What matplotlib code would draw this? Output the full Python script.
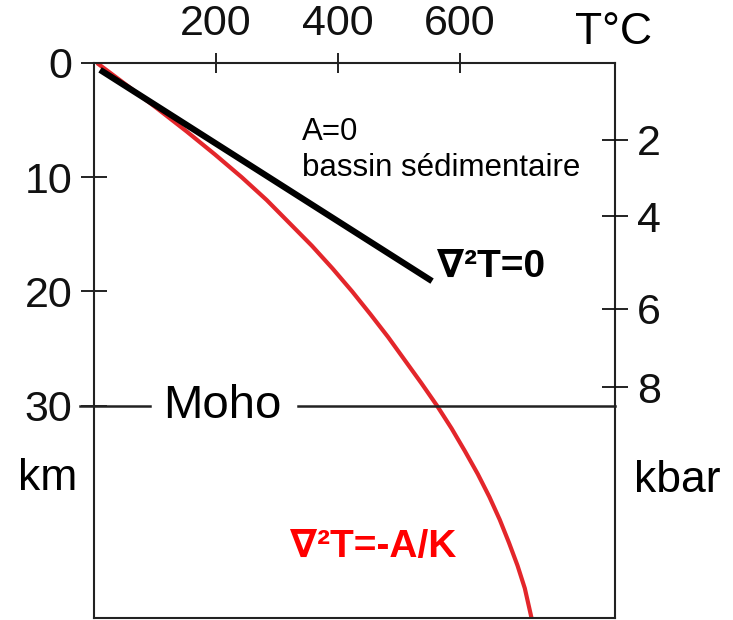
import matplotlib
matplotlib.use("Agg")
import matplotlib.pyplot as plt

plt.rcParams['font.family'] = ['Liberation Sans', 'DejaVu Sans']

# geotherm with radiogenic heat (red), every 2 km
red_z = [0, 2, 4, 6, 8, 10, 12, 14, 16, 18, 20, 22, 24, 26, 28, 30,
         32, 34, 36, 38, 40, 42, 44, 46, 48.6]
red_T = [5, 55, 104, 152, 198, 242, 283, 320, 357, 391, 423, 453, 482, 509, 536, 562,
         586, 608, 629, 648, 665, 680, 694, 706, 717]

# A=0 geotherm (black, straight)
black_T = [10, 554]
black_z = [0.6, 19.1]

T_ticks = [200, 400, 600]
km_ticks = [0, 10, 20, 30]
kbar_labels = [2, 4, 6, 8]
kbar_depth = [6.7, 13.4, 21.5, 28.4]
moho_depth = 30

T_MAX = 854
Z_MAX = 48.6

fig = plt.figure(figsize=(7.33, 6.2), dpi=100)
ax = fig.add_axes([0.1282, 0.0032, 0.711, 0.8952])

ax.plot(red_T, red_z, color='#e3262b', lw=3, solid_capstyle='butt', solid_joinstyle='round')
ax.plot(black_T, black_z, color='black', lw=4.5, solid_capstyle='butt')

# moho line, broken round the label
ax.plot([-23, 92], [moho_depth, moho_depth], color='#222222', lw=1.8, clip_on=False)
ax.plot([334, T_MAX], [moho_depth, moho_depth], color='#222222', lw=1.8, clip_on=False)
ax.text(210, moho_depth, "Moho", fontsize=34, ha='center', va='center')

ax.set_xlim(0, T_MAX)
ax.set_ylim(Z_MAX, 0)

for s in ax.spines.values():
    s.set_linewidth(1.5)
    s.set_color('#222222')

ax.xaxis.tick_top()
ax.set_xticks(T_ticks)
ax.set_xticklabels([str(t) for t in T_ticks])
ax.tick_params(axis='x', direction='inout', length=14, width=1.3, pad=7,
               labelsize=31, colors='#111111')

ax.set_yticks(km_ticks)
ax.set_yticklabels([str(z) for z in km_ticks])
ax.tick_params(axis='y', direction='inout', length=19, width=1.3, pad=6,
               labelsize=31, colors='#111111')

ax2 = ax.twinx()
ax2.set_ylim(Z_MAX, 0)
ax2.set_yticks(kbar_depth)
ax2.set_yticklabels([str(k) for k in kbar_labels])
ax2.tick_params(axis='y', direction='inout', length=19, width=1.3, pad=6,
                labelsize=31, colors='#111111')
for s in ax2.spines.values():
    s.set_visible(False)

ax.text(341, 6.0, "A=0", fontsize=22.5, ha='left', va='center')
ax.text(341, 9.2, "bassin sédimentaire", fontsize=22.5, ha='left', va='center')
ax.text(562, 17.9, "∇²T=0", fontsize=28, fontweight='bold', ha='left', va='center')
ax.text(321, 42.4, "∇²T=-A/K", fontsize=28, fontweight='bold', color='red',
        ha='left', va='center')

fig.text(613 / 733, 1 - 32 / 620, "T°C", fontsize=32, ha='center', va='center')
fig.text(48 / 733, 1 - 478 / 620, "km", fontsize=32, ha='center', va='center')
fig.text(677 / 733, 1 - 480 / 620, "kbar", fontsize=32, ha='center', va='center')

fig.savefig("out.png", dpi=100)
